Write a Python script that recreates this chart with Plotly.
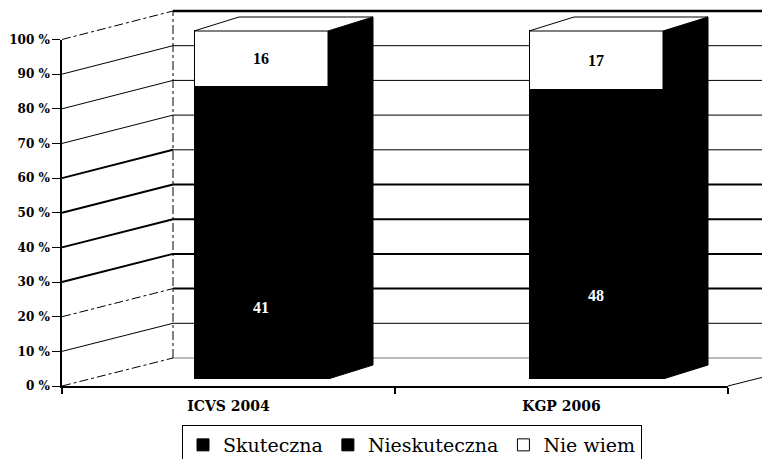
import plotly.graph_objects as go

# ---------------- data ----------------
categories = ["ICVS 2004", "KGP 2006"]
series_names = ["Skuteczna", "Nieskuteczna", "Nie wiem"]
skuteczna = [41, 48]
nieskuteczna = [43, 35]
nie_wiem = [16, 17]
y_ticks = [0, 10, 20, 30, 40, 50, 60, 70, 80, 90, 100]
y_tick_labels = [f"{v} %" for v in y_ticks]

# ---------------- layout constants (pixels) ----------------
W, H = 762, 459
FRONT_X, FRONT_Y0, FRONT_Y100 = 62, 386, 39.5     # front value axis
BACK_X, BACK_Y0, BACK_Y100 = 173, 358, 11         # back wall
CAT_X_END = 728                                   # end of front category axis
BAR_Y0, BAR_Y100 = 379, 31                        # bar front faces
BAR_C0, BAR_STEP = 261, 335                       # first bar centre, spacing
BAR_W = 0.4
DEPTH_PX_X, DEPTH_PX_Y = 45, 14

def px(x):
    return x / W

def py(y):
    return 1 - y / H

def front_y(v):
    return FRONT_Y0 + (FRONT_Y100 - FRONT_Y0) * v / 100

def back_y(v):
    return BACK_Y0 + (BACK_Y100 - BACK_Y0) * v / 100

bar_unit = (BAR_Y0 - BAR_Y100) / 100
y_top = BAR_Y0 / bar_unit
x_left_px = BAR_C0 - BAR_STEP / 2
x_max = -0.5 + (W - x_left_px) / BAR_STEP
dx = DEPTH_PX_X / BAR_STEP
dy = DEPTH_PX_Y / bar_unit

SERIF = "DejaVu Serif"
LSERIF = "Liberation Serif"

fig = go.Figure()

xs = list(range(len(categories)))
vals = [skuteczna, nieskuteczna, nie_wiem]
fills = ["black", "black", "white"]
tcols = ["white", "black", "black"]
for name, v, fc, tc in zip(series_names, vals, fills, tcols):
    fig.add_trace(go.Bar(
        x=xs, y=v, name=name, width=BAR_W,
        marker=dict(color=fc, line=dict(color="black", width=1)),
        text=[str(a) for a in v], textposition="inside",
        insidetextanchor="middle", textangle=0,
        textfont=dict(family=LSERIF, size=16, color=tc, weight="bold"),
        hoverinfo="skip", xaxis="x", yaxis="y",
    ))

# 3D side and top faces, derived from the stacked totals
for i in xs:
    total = skuteczna[i] + nieskuteczna[i] + nie_wiem[i]
    xl, xr = i - BAR_W / 2, i + BAR_W / 2
    fig.add_trace(go.Scatter(
        x=[xr, xr + dx, xr + dx, xr, xr],
        y=[0, dy, total + dy, total, 0],
        mode="lines", fill="toself", fillcolor="black",
        line=dict(color="black", width=1), showlegend=False,
        hoverinfo="skip", xaxis="x", yaxis="y"))
    fig.add_trace(go.Scatter(
        x=[xl, xl + dx, xr + dx, xr, xl],
        y=[total, total + dy, total + dy, total, total],
        mode="lines", fill="toself", fillcolor="white",
        line=dict(color="black", width=1), showlegend=False,
        hoverinfo="skip", xaxis="x", yaxis="y"))

# dummy trace for the front category axis
fig.add_trace(go.Scatter(
    x=categories, y=[0, 0], mode="markers", marker=dict(opacity=0),
    showlegend=False, hoverinfo="skip", xaxis="x2", yaxis="y2"))

# back wall & slanted gridlines
shapes = []
thick_back = {20, 30, 40, 50}
thick_slant = {30, 40, 50, 60}
for v in y_ticks:
    if v == 100:
        bw, bc = 2.5, "black"
    elif v == 0:
        bw, bc = 1, "#777777"
    else:
        bw, bc = (2 if v in thick_back else 1), "black"
    shapes.append(dict(type="line", xref="paper", yref="paper", layer="below",
                       x0=px(BACK_X), x1=1.0, y0=py(back_y(v)), y1=py(back_y(v)),
                       line=dict(color=bc, width=bw)))
    dash = "dashdot" if v in (0, 20, 100) else "solid"
    sw = 2 if v in thick_slant else 1
    shapes.append(dict(type="line", xref="paper", yref="paper", layer="below",
                       x0=px(FRONT_X), x1=px(BACK_X),
                       y0=py(front_y(v)), y1=py(back_y(v)),
                       line=dict(color="black", width=sw, dash=dash)))
# back wall left edge
shapes.append(dict(type="line", xref="paper", yref="paper", layer="below",
                   x0=px(BACK_X), x1=px(BACK_X), y0=py(back_y(0)), y1=py(back_y(100)),
                   line=dict(color="black", width=1, dash="dashdot")))
# floor right edge
sx = (BACK_X - FRONT_X)
sy = (back_y(0) - front_y(0))
shapes.append(dict(type="line", xref="paper", yref="paper", layer="below",
                   x0=px(CAT_X_END), x1=px(CAT_X_END + sx),
                   y0=py(front_y(0)), y1=py(front_y(0) + sy),
                   line=dict(color="black", width=1)))

fig.update_layout(
    width=W, height=H,
    margin=dict(l=0, r=0, t=0, b=0, pad=0, autoexpand=False),
    paper_bgcolor="white", plot_bgcolor="rgba(0,0,0,0)",
    barmode="stack", bargap=0,
    shapes=shapes,
    xaxis=dict(domain=[px(x_left_px), 1], range=[-0.5, x_max], visible=False,
               fixedrange=True),
    yaxis=dict(domain=[py(BAR_Y0), 1], range=[0, y_top], visible=False,
               fixedrange=True),
    xaxis2=dict(domain=[px(FRONT_X), px(CAT_X_END)], anchor="y2", type="category",
                range=[-0.5, 1.5], showline=True, linecolor="black", linewidth=1.5,
                ticks="outside", tickson="boundaries", ticklen=6, tickwidth=2,
                tickcolor="black", showgrid=False, zeroline=False,
                tickfont=dict(family=SERIF, size=14, color="black", weight="bold"),
                ticklabelstandoff=6, fixedrange=True),
    yaxis2=dict(domain=[py(FRONT_Y0), py(FRONT_Y100)], anchor="x2",
                range=[0, 100], tickmode="array", tickvals=y_ticks,
                ticktext=y_tick_labels,
                showline=True, linecolor="black", linewidth=1.5,
                ticks="outside", ticklen=8, tickwidth=1, tickcolor="black",
                showgrid=False, zeroline=False, fixedrange=True,
                tickfont=dict(family=SERIF, size=12, color="black", weight="bold")),
    legend=dict(orientation="h", x=px(412), xanchor="center", y=py(425), yanchor="top",
                bordercolor="black", borderwidth=1, bgcolor="white",
                font=dict(family=SERIF, size=19, color="black"),
                traceorder="normal", itemclick=False, itemdoubleclick=False),
    showlegend=True,
)

fig.write_html("out.html",
               config={"displayModeBar": False},
               post_script="document.body.style.margin='0px';"
                           "document.body.style.overflow='hidden';")
